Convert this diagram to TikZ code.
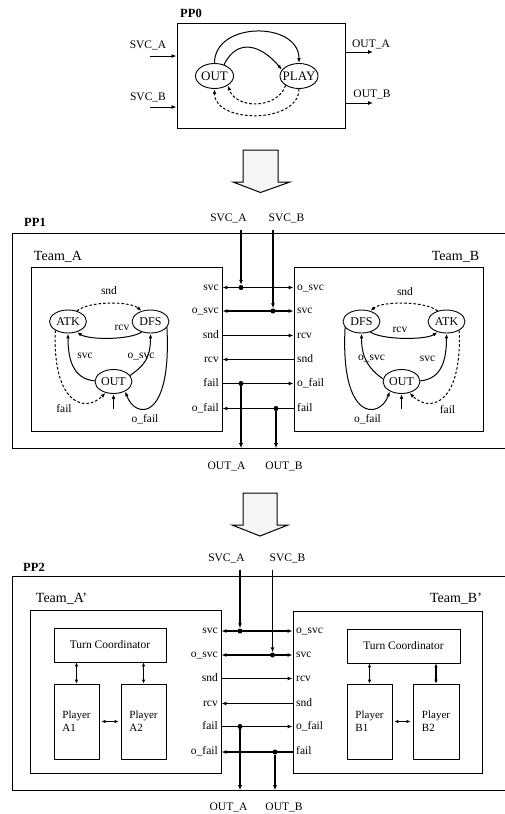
\documentclass[tikz,border=0pt]{standalone}
\usepackage{fontspec}
\setmainfont{Liberation Serif}
\usetikzlibrary{arrows.meta,positioning,calc,shapes.geometric}

\begin{document}
\begin{tikzpicture}[x=1pt, y=-1pt,
  font=\fontsize{11.5}{13}\selectfont,
  ppbox/.style={rectangle, draw, line width=0.9pt, inner sep=0pt},
  ppframe/.style={line width=0.9pt},
  teambox/.style={rectangle, draw, line width=0.9pt, minimum width=191pt, minimum height=164pt, inner sep=0pt},
  stnode/.style={ellipse, draw, line width=0.9pt, minimum width=37pt, minimum height=23pt, inner sep=0pt, font=\fontsize{12}{13}\selectfont},
  subbox/.style={rectangle, draw, line width=0.8pt, inner sep=0pt},
  pplbl/.style={font=\fontsize{12.5}{14}\selectfont\bfseries},
  teamlbl/.style={font=\fontsize{14}{16}\selectfont},
  portA/.style={anchor=east, inner sep=1pt, text height=8pt, text depth=2.5pt},
  portB/.style={anchor=west, inner sep=1pt, text height=8pt, text depth=2.5pt},
  tlbl/.style={inner sep=1pt},
  junct/.style={circle, fill, inner sep=0pt, minimum size=5pt},
  wire/.style={line width=1.3pt, -{Latex[length=5pt,width=4pt]}},
  dwire/.style={line width=1.3pt, {Latex[length=5pt,width=4pt]}-{Latex[length=5pt,width=4pt]}},
  sdwire/.style={line width=1.1pt, {Latex[length=4pt,width=3.5pt]}-{Latex[length=4pt,width=3.5pt]}},
  trans/.style={line width=1pt, -{Latex[length=5pt,width=3.6pt]}},
  dtrans/.style={trans, dash pattern=on 2.6pt off 2pt},
  bigarrow/.style={draw, line width=1pt, fill=gray!8}
]
\useasboundingbox (0,0) rectangle (505,814);

% ---------------- PP0 ----------------
\node[pplbl] (pp0lbl) at (191,13) {PP0};
\node[ppbox, minimum width=168pt, minimum height=105pt] (pp0) at (261,75.5) {};
\node[stnode, minimum width=38pt, minimum height=25pt, font=\fontsize{13}{14}\selectfont] (out0) at (214.5,76) {\makebox[0pt]{OUT}};
\node[stnode, minimum width=38pt, minimum height=25pt, font=\fontsize{13}{14}\selectfont] (play0) at (299,76) {\makebox[0pt]{PLAY}};

% inputs / outputs
\coordinate (inA0) at (150,56);
\coordinate (inB0) at (150,107);
\coordinate (outA0) at (373,52);
\coordinate (outB0) at (373,103);
\node (svcA0) at (148,45) {SVC\_A};
\node (svcB0) at (148,97) {SVC\_B};
\node (outA0l) at (371,44) {OUT\_A};
\node (outB0l) at (372,94) {OUT\_B};
\draw[wire, line width=1pt] (inA0) -- (inA0 -| pp0.west);
\draw[wire, line width=1pt] (inB0) -- (inB0 -| pp0.west);
\draw[wire, line width=1pt] (outA0 -| pp0.east) -- (outA0);
\draw[wire, line width=1pt] (outB0 -| pp0.east) -- (outB0);

% transitions
\draw[trans] (out0.north) .. controls +(0,-42) and +(0,-42) .. (play0.north);
\draw[trans] (out0.50) .. controls +(14,-28) and +(-20,-24) .. (play0.160);
\draw[dtrans] (play0.south) .. controls +(0,35) and +(0,35) .. (out0.south);
\draw[dtrans] (play0.215) .. controls +(-8,24) and +(8,24) .. (out0.325);

% refinement arrow 1
\draw[bigarrow] (243,150) -- (278,150) -- (278,182) -- (290,182) -- (260.5,192.5) -- (233,182) -- (243,182) -- cycle;

% ---------------- PP1 ----------------
\node[pplbl] (pp1lbl) at (35,222.5) {PP1};
\node[inner sep=0pt, minimum width=492pt, minimum height=214pt] (pp1) at (259,341) {};
\draw[ppframe] (pp1.north east) -- (pp1.north west) -- (pp1.south west) -- (pp1.south east);

\node[teamlbl] (teamAlbl) at (58,257) {Team\_A};
\node[teambox] (teamA) at (126.5,349) {};
\node[teamlbl] (teamBlbl) at (455.5,257) {Team\_B};
\node[teambox, minimum width=189pt] (teamB) at (388.5,349.5) {};

% Team_A states
\node[stnode] (atkA) at (68,321.5) {ATK};
\node[stnode] (dfsA) at (150.5,321.5) {DFS};
\node[stnode, minimum height=24pt] (outA) at (113.5,381.5) {OUT};
\coordinate (inA) at (113.5,409);

\draw[dtrans] (atkA.50) .. controls +(12,-10) and +(-12,-10) .. (dfsA.130);
\draw[trans] (dfsA.230) .. controls +(-12,8) and +(12,8) .. (atkA.310);
\draw[trans] (outA.178) .. controls +(-22,-2) and +(0,25) .. (atkA.south);
\draw[trans] (outA.20) .. controls +(14,-10) and +(0,25) .. (dfsA.south);
\draw[dtrans] (atkA.215) .. controls +(-3,75) and +(-20,20) .. (outA.235);
\draw[trans] (dfsA.340) .. controls +(5,95) and +(10,28) .. (outA.320);
\draw[trans] (inA) -- (outA.south);

\node[tlbl] (sndAl) at (109,291) {snd};
\node[tlbl] (rcvAl) at (122,328) {rcv};
\node[tlbl] (svcAl) at (85,356) {svc};
\node[tlbl] (osvcAl) at (141,357) {o\_svc};
\node[tlbl] (failAl) at (64,409) {fail};
\node[tlbl] (ofailAl) at (145,419) {o\_fail};

% Team_B states
\node[stnode] (dfsB) at (361.5,321.5) {DFS};
\node[stnode] (atkB) at (446.5,321.5) {ATK};
\node[stnode, minimum height=24pt] (outB) at (401.5,381.5) {OUT};
\coordinate (inB) at (401.5,409);

\draw[dtrans] (atkB.130) .. controls +(-12,-10) and +(12,-10) .. (dfsB.50);
\draw[trans] (dfsB.310) .. controls +(12,8) and +(-12,8) .. (atkB.230);
\draw[trans] (outB.172) .. controls +(-14,-10) and +(0,25) .. (dfsB.south);
\draw[trans] (outB.2) .. controls +(22,-2) and +(0,25) .. (atkB.south);
\draw[trans] (dfsB.200) .. controls +(-5,95) and +(-10,28) .. (outB.220);
\draw[dtrans] (atkB.325) .. controls +(3,75) and +(20,20) .. (outB.305);
\draw[trans] (inB) -- (outB.south);

\node[tlbl] (sndBl) at (405,292) {snd};
\node[tlbl] (rcvBl) at (400,330) {rcv};
\node[tlbl] (osvcBl) at (371.5,358.5) {o\_svc};
\node[tlbl] (svcBl) at (427.5,358.5) {svc};
\node[tlbl] (ofailBl) at (367.5,419) {o\_fail};
\node[tlbl] (failBl) at (447.5,410) {fail};

% ports
\node[portA] (aSvc) at (220,287.5) {svc};
\node[portA] (aOsvc) at (220,311) {o\_svc};
\node[portA] (aSnd) at (220,335.5) {snd};
\node[portA] (aRcv) at (220,359.5) {rcv};
\node[portA] (aFail) at (220,383.5) {fail};
\node[portA] (aOfail) at (220,408.5) {o\_fail};
\node[portB] (bOsvc) at (296,287.5) {o\_svc};
\node[portB] (bSvc) at (296,311) {svc};
\node[portB] (bRcv) at (296,335.5) {rcv};
\node[portB] (bSnd) at (296,359.5) {snd};
\node[portB] (bOfail) at (296,383.5) {o\_fail};
\node[portB] (bFail) at (296,408.5) {fail};

% wiring
\node (svcA1) at (228.5,218.5) {SVC\_A};
\node (svcB1) at (286.5,218.5) {SVC\_B};
\node (outA1) at (226.5,466) {OUT\_A};
\node (outB1) at (284,466) {OUT\_B};
\node[junct] (jA1) at (241,287.5) {};
\node[junct] (jB1) at (273,311) {};
\node[junct] (jA5) at (241,383.5) {};
\node[junct] (jB6) at (276,408.5) {};

\draw[dwire] (aSvc -| teamA.east) -- (bOsvc -| teamB.west);
\draw[dwire] (aOsvc -| teamA.east) -- (bSvc -| teamB.west);
\draw[wire] (aSnd -| teamA.east) -- (bRcv -| teamB.west);
\draw[wire] (bSnd -| teamB.west) -- (aRcv -| teamA.east);
\draw[wire] (aFail -| teamA.east) -- (bOfail -| teamB.west);
\draw[wire] (bFail -| teamB.west) -- (aOfail -| teamA.east);
\draw[wire, shorten <=3pt] (svcA1.south -| jA1) -- (jA1);
\draw[wire, shorten <=3pt] (svcB1.south -| jB1) -- (jB1);
\draw[wire] (jA5) -- (jA5 |- pp1.south);
\draw[wire] (jB6) -- (jB6 |- pp1.south);

% refinement arrow 2
\draw[bigarrow] (243,493) -- (277,493) -- (277,525) -- (288,525) -- (260,536) -- (232,525) -- (243,525) -- cycle;

% ---------------- PP2 ----------------
\node[pplbl] (pp2lbl) at (34,567.5) {PP2};
\node[inner sep=0pt, minimum width=492pt, minimum height=213pt] (pp2) at (259,683.5) {};
\draw[ppframe] (pp2.north east) -- (pp2.north west) -- (pp2.south west) -- (pp2.south east);

\node[teamlbl] (teamA2lbl) at (61.5,599) {Team\_A'};
\node[teambox, minimum height=163pt] (teamA2) at (125.5,691.5) {};
\node[teamlbl] (teamB2lbl) at (456,599) {Team\_B'};
\node[teambox, minimum width=189pt, minimum height=162pt] (teamB2) at (387.5,692) {};

% Team_A' internals
\node[subbox, minimum width=112pt, minimum height=34pt] (tcA) at (110,645) {Turn Coordinator};
\node[subbox, minimum width=45pt, minimum height=75pt, align=left, font=\fontsize{11}{13}\selectfont] (plA1) at (76.5,721.5) {Player\\A1};
\node[subbox, minimum width=45pt, minimum height=75pt, align=left, font=\fontsize{11}{13}\selectfont] (plA2) at (143.5,721.5) {Player\\A2};
\draw[sdwire] (tcA.south -| plA1.north) -- (plA1.north);
\draw[sdwire] (tcA.south -| plA2.north) -- (plA2.north);
\draw[sdwire, shorten <=2pt, shorten >=2pt] (plA1) -- (plA2);

% Team_B' internals
\node[subbox, minimum width=113pt, minimum height=34pt] (tcB) at (403.5,646) {Turn Coordinator};
\node[subbox, minimum width=45pt, minimum height=75pt, align=left, font=\fontsize{11}{13}\selectfont] (plB1) at (369.5,721.5) {Player\\B1};
\node[subbox, minimum width=46pt, minimum height=75pt, align=left, font=\fontsize{11}{13}\selectfont] (plB2) at (436,721.5) {Player\\B2};
\draw[sdwire] (tcB.south -| plB1.north) -- (plB1.north);
\draw[sdwire] (tcB.south -| plB2.north) -- (plB2.north);
\draw[sdwire, shorten <=2pt, shorten >=2pt] (plB1) -- (plB2);

% ports
\node[portA] (a2Svc) at (219,631) {svc};
\node[portA] (a2Osvc) at (219,655) {o\_svc};
\node[portA] (a2Snd) at (219,678.5) {snd};
\node[portA] (a2Rcv) at (219,703.5) {rcv};
\node[portA] (a2Fail) at (219,726.5) {fail};
\node[portA] (a2Ofail) at (219,752) {o\_fail};
\node[portB] (b2Osvc) at (295,631) {o\_svc};
\node[portB] (b2Svc) at (295,655) {svc};
\node[portB] (b2Rcv) at (295,678.5) {rcv};
\node[portB] (b2Snd) at (295,703.5) {snd};
\node[portB] (b2Ofail) at (295,726.5) {o\_fail};
\node[portB] (b2Fail) at (295,752) {fail};

% wiring
\node (svcA2) at (226.5,558.5) {SVC\_A};
\node (svcB2) at (287.5,558.5) {SVC\_B};
\node (outA2) at (228.5,807.5) {OUT\_A};
\node (outB2) at (284,807.5) {OUT\_B};
\node[junct] (jA2a) at (240,631) {};
\node[junct] (jB2a) at (272.5,655) {};
\node[junct] (jA2e) at (240,726.5) {};
\node[junct] (jB2f) at (275,752) {};

\draw[dwire] (a2Svc -| teamA2.east) -- (b2Osvc -| teamB2.west);
\draw[dwire] (a2Osvc -| teamA2.east) -- (b2Svc -| teamB2.west);
\draw[wire] (a2Snd -| teamA2.east) -- (b2Rcv -| teamB2.west);
\draw[wire] (b2Snd -| teamB2.west) -- (a2Rcv -| teamA2.east);
\draw[wire] (a2Fail -| teamA2.east) -- (b2Ofail -| teamB2.west);
\draw[wire] (b2Fail -| teamB2.west) -- (a2Ofail -| teamA2.east);
\draw[wire, shorten <=3pt] (svcA2.south -| jA2a) -- (jA2a);
\draw[wire, shorten <=3pt] (svcB2.south -| jB2a) -- (jB2a);
\draw[wire] (jA2e) -- (jA2e |- pp2.south);
\draw[wire] (jB2f) -- (jB2f |- pp2.south);

\end{tikzpicture}
\end{document}
